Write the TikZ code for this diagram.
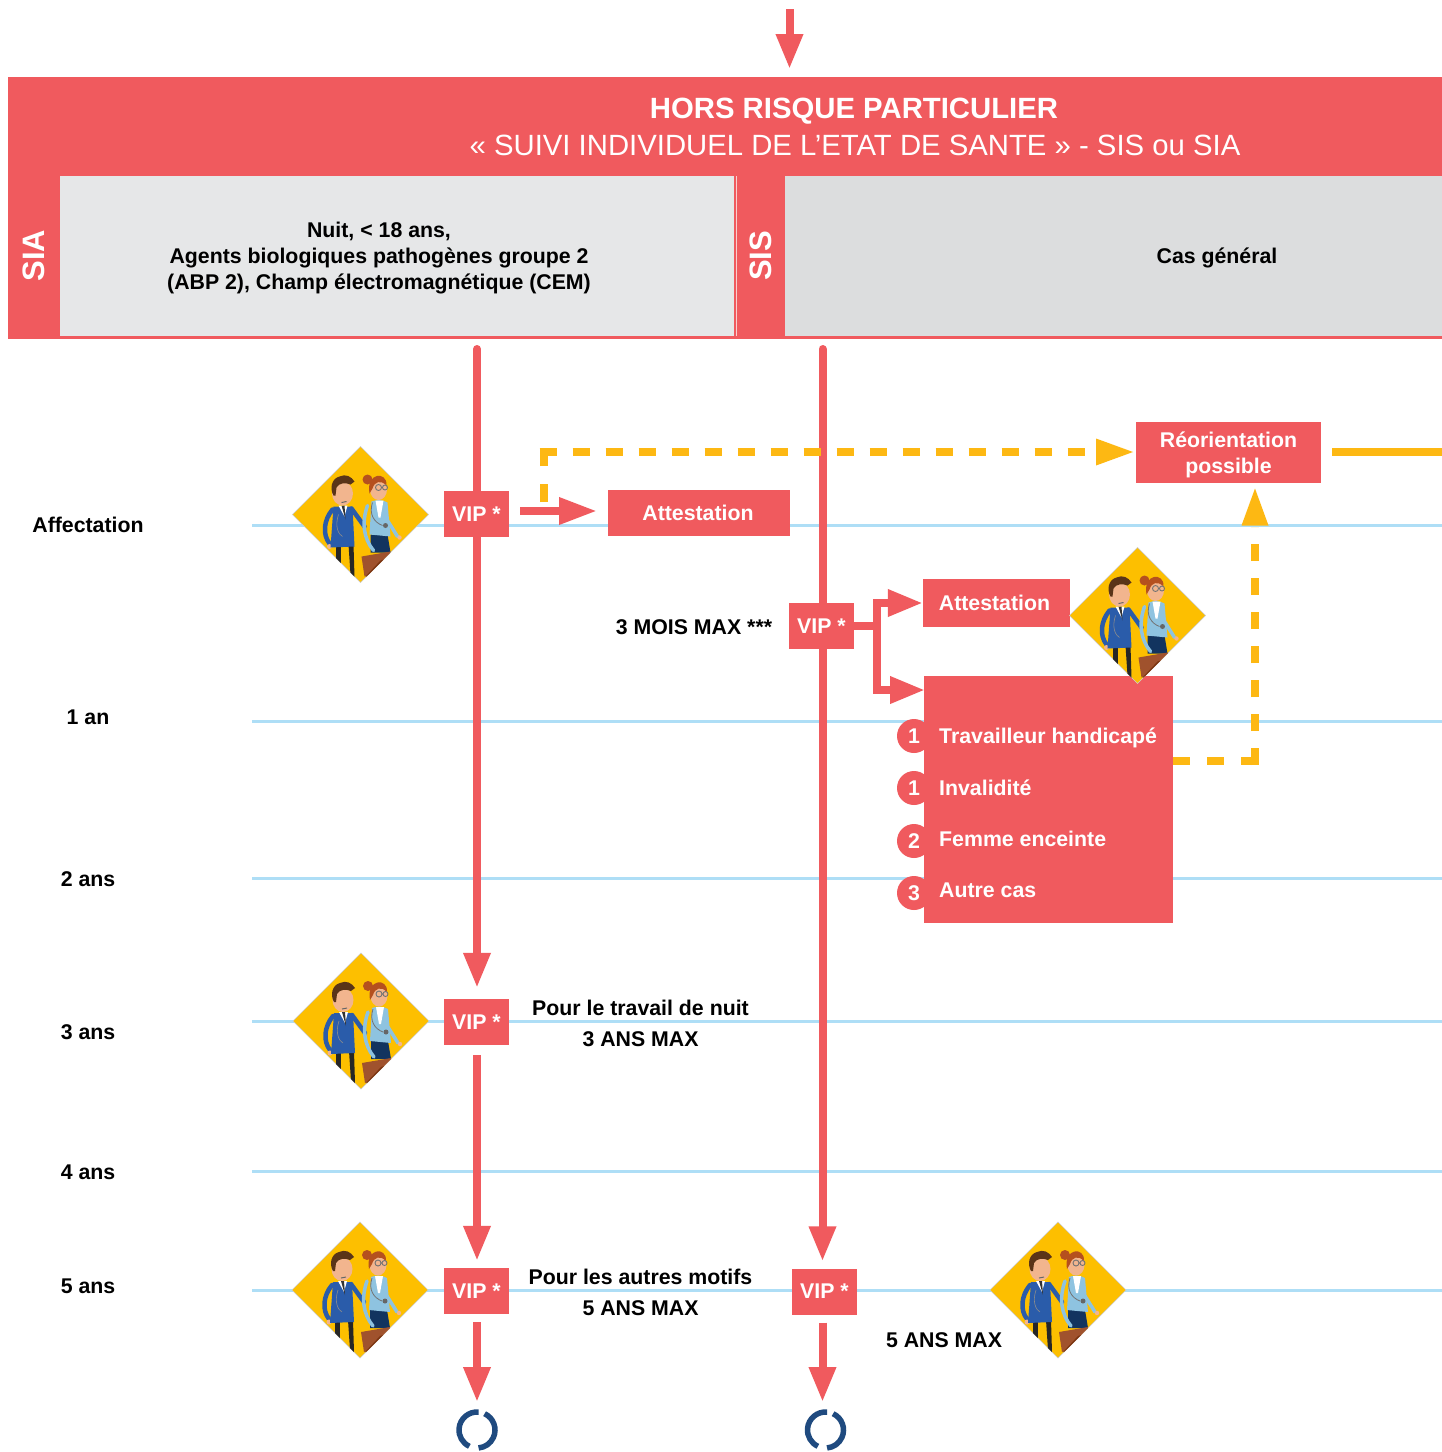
\documentclass[tikz,border=0pt]{standalone}
\usepackage{fontspec}
\setmainfont{Liberation Sans}
\usetikzlibrary{arrows.meta}
\definecolor{rd}{HTML}{F05A5E}
\definecolor{og}{HTML}{FDB813}
\definecolor{lb}{HTML}{AEDEF6}
\definecolor{ga}{HTML}{E6E7E8}
\definecolor{gb}{HTML}{DCDDDE}
\definecolor{nv}{HTML}{1F4A7F}
\definecolor{dy}{HTML}{FDBF00}
\definecolor{skirtc}{HTML}{12345F}
\definecolor{coata}{HTML}{2A5CAA}
\definecolor{coatb}{HTML}{8EC3E0}
\definecolor{skin}{HTML}{F2B58E}
\definecolor{hairm}{HTML}{5A3418}
\definecolor{hairw}{HTML}{B5501E}
\definecolor{brownc}{HTML}{A0522D}
\definecolor{brownd}{HTML}{7A3512}
\newcommand{\vip}{\raisebox{-1pt}{VIP *}}
\tikzset{
  x=1pt,y=-1pt,
  redbox/.style={fill=rd,text=white,font=\bfseries\fontsize{21.3}{26}\selectfont,align=center,inner sep=0pt,anchor=center},
  lab/.style={text=black,font=\bfseries\fontsize{21.3}{26}\selectfont,align=center,inner sep=0pt},
  wlab/.style={text=white,font=\bfseries\fontsize{21.3}{26}\selectfont,inner sep=0pt,anchor=base west},
  rdarrow/.style={draw=rd,line width=8pt,-{Triangle[length=35pt,width=25.5pt]}},
  ogdash/.style={draw=og,line width=8pt,dash pattern=on 17pt off 17pt},
  ticktime/.style={draw=lb,line width=3pt},
  num/.style={circle,fill=rd,text=white,minimum size=34pt,inner sep=0pt,font=\bfseries\fontsize{21.3}{26}\selectfont},
  cyc/.style={draw=nv,line width=5.5pt},
  staff/.pic={
    \fill[dy,draw=black!20,line width=0.5pt] (0,-68) -- (68,0) -- (0,68) -- (-68,0) -- cycle;
    \begin{scope}
    \clip (0,-68) -- (68,0) -- (0,68) -- (-68,0) -- cycle;
    % man
    \fill[black!85] (-25,30) rectangle (-20,48);
    \fill[black!85] (-12,30) -- (-7,30) -- (-6,62) -- (-10,60) -- cycle;
    \draw[coata,line width=4.5pt,line cap=round] (-28,-5) .. controls (-37,6) and (-38,20) .. (-31,29);
    \fill[skin] (-31,32) circle (2.5);
    \draw[coata,line width=4.5pt,line cap=round] (-9,-6) -- (4,12);
    \fill[coata] (-27,-8) -- (-8,-8) -- (-6,32) -- (-30,33) -- cycle;
    \fill[white] (-22,-9) -- (-13,-9) -- (-16,2) -- cycle;
    \fill[black!80] (-19,-9) -- (-16,-9) -- (-15,5) -- cycle;
    \draw[black!45,line width=0.6pt] (-22,0) .. controls (-26,12) and (-22,20) .. (-18,22);
    \fill[skin] (-18,-21) ellipse [x radius=10.5,y radius=12];
    \fill[hairm] (-27,-19) .. controls (-31,-26) and (-29,-36) .. (-21,-38) .. controls (-15,-41) and (-9,-38) .. (-6,-33) -- (-10,-30) .. controls (-15,-32) and (-21,-32) .. (-24,-27) -- (-25,-19) -- cycle;
    \draw[black!60,line width=1pt] (-19,-12) -- (-14,-13);
    % woman
    \fill[skirtc] (10,20) -- (27,20) -- (30,38) -- (10,38) -- cycle;
    \draw[coatb,line width=3.5pt,line cap=round] (7,-9) .. controls (1,8) and (3,24) .. (13,36);
    \draw[coatb,line width=3.5pt,line cap=round] (27,6) -- (37,22);
    \fill[skin] (39,23) circle (2.2);
    \fill[coatb] (11,-13) .. controls (16,-15) and (22,-15) .. (27,-12) -- (30,22) -- (9,20) -- cycle;
    \fill[white] (15,-14) -- (23,-14) -- (20,3) -- (18,3) -- cycle;
    \draw[black!55,line width=0.8pt] (12,-12) .. controls (8,0) and (14,8) .. (22,11);
    \fill[black!60] (25,11) circle (2.5);
    \fill[skin] (18,-25) ellipse [x radius=8.5,y radius=10.5];
    \fill[hairw] (7,-35) circle (5);
    \fill[hairw] (9,-21) .. controls (5,-42) and (27,-44) .. (26,-29) .. controls (20,-35) and (14,-33) .. (12,-26) -- cycle;
    \draw[black!55,line width=0.9pt] (18,-27) circle (3) (24.5,-27) circle (2.5);
    % briefcase
    \fill[brownc] (1,42) -- (30,37) -- (32,48) -- (4,62) -- cycle;
    \fill[brownd] (5,62) -- (20,46) -- (32,42) -- (32,62) -- cycle;
    \end{scope}
  }
}
\begin{document}
\begin{tikzpicture}
\useasboundingbox (0,0) rectangle (1442,1452);
\fill[white] (0,0) rectangle (1442,1452);
% header
\fill[rd] (8,77) rectangle (1442,339);
\fill[ga] (60,176) rectangle (734,336);
\draw[white!70!rd,line width=1pt] (736.5,176) -- (736.5,336);
\fill[gb] (785,176) rectangle (1442,336);
\node[text=white,font=\bfseries\fontsize{29.3}{36}\selectfont,inner sep=0pt] (title1) at (854,111.5) {HORS RISQUE PARTICULIER};
\node[text=white,font=\fontsize{29.3}{36}\selectfont,inner sep=0pt] (title2) at (855,145) {« SUIVI INDIVIDUEL DE L’ETAT DE SANTE » - SIS ou SIA};
\node[text=white,font=\bfseries\fontsize{31}{36}\selectfont,inner sep=0pt,rotate=90] (sia) at (33.5,255.5) {SIA};
\node[text=white,font=\bfseries\fontsize{31}{36}\selectfont,inner sep=0pt,rotate=90] (sis) at (760.5,256) {SIS};
\node[lab] (cas1) at (379,258.5) {Nuit, < 18 ans,\\Agents biologiques pathogènes groupe 2\\(ABP 2), Champ électromagnétique (CEM)};
\node[lab] (cas2) at (1217,258) {Cas général};
% time lines
\foreach \yy in {525.5,721,878,1021,1171,1290.5} \draw[ticktime] (252,\yy) -- (1442,\yy);
\node[lab] (t0) at (88,525) {Affectation};
\node[lab] (t1) at (88,717) {1 an};
\node[lab] (t2) at (88,879) {2 ans};
\node[lab] (t3) at (88,1032) {3 ans};
\node[lab] (t4) at (88,1172) {4 ans};
\node[lab] (t5) at (88,1286) {5 ans};
% free ends
\coordinate (top0) at (789.5,9);
\coordinate (top1) at (789.5,69);
\coordinate (la) at (477,349);
\coordinate (ra) at (822.5,349);
\coordinate (cy1) at (477,1402);
\coordinate (cy2) at (822.5,1402);
% vertical lines
\draw[rdarrow] (top0) -- (top1);
\draw[rd,line width=8pt,line cap=round] (la) -- (477,500);
\draw[rd,line width=8pt,line cap=round] (ra) -- (822.5,610);
\node[redbox,minimum width=65pt,minimum height=46pt] (v1) at (476.5,514) {\vip};
\node[redbox,minimum width=65pt,minimum height=46pt] (v2) at (476.5,1022) {\vip};
\node[redbox,minimum width=65pt,minimum height=46pt] (v3) at (476.5,1291) {\vip};
\node[redbox,minimum width=65pt,minimum height=46pt] (v4) at (821.5,626) {\vip};
\node[redbox,minimum width=65pt,minimum height=46pt] (v5) at (824.5,1291.5) {\vip};
\draw[rdarrow,shorten >=11pt] (v1.south -| la) -- (v2.north -| la);
\draw[rdarrow,shorten <=10pt,shorten >=7pt] (v2.south -| la) -- (v3.north -| la);
\draw[rdarrow,shorten <=8pt] (v3.south -| la) -- (cy1);
\draw[rdarrow,shorten >=7pt] (v4.south -| ra) -- (v5.north -| ra);
\draw[rdarrow,shorten <=8pt] (v5.south -| ra) -- (cy2);
% orange dashed
\node[redbox,minimum width=185pt,minimum height=61pt] (reo) at (1228.5,452.5) {};
\node[text=white,font=\bfseries\fontsize{21.3}{26}\selectfont,align=center,inner sep=0pt] (reot) at (1228.5,454.5) {Réorientation\\possible};
\node[redbox,minimum width=182pt,minimum height=46pt] (at1) at (699,513) {\hspace*{-2pt}\raisebox{-1pt}{Attestation}};
\coordinate (od0) at (543.5,502);
\coordinate (od1) at (543.5,448);
\coordinate (od2) at (539.5,452);
\coordinate (od3) at (1097,452);
\draw[og,line width=8pt,dash pattern=on 18pt off 18pt] (od0) -- (od1);
\draw[og,line width=8pt,dash pattern=on 17.5pt off 15.5pt] (od2) -- (od3);
\fill[og] (1096,438.5) -- (1133,452) -- (1096,465.5) -- cycle;
\coordinate (os) at (1442,452);
\coordinate (os0) at (1332,452);
\draw[og,line width=8pt] (os0) -- (os);
% arrow to attestation
\coordinate (a0) at (520,511);
\coordinate (a1) at (597,511);
\draw[draw=rd,line width=8pt,-{Triangle[length=38pt,width=25.5pt]}] (a0) -- (a1);
% diamonds
\pic (d1) at (360.5,514.5) {staff};
\pic (d2) at (361,1021) {staff};
\pic (d3) at (360,1290) {staff};
\pic (d4) at (1058,1290) {staff};
% right branch
\node[redbox,minimum width=147pt,minimum height=48pt] (at2) at (996.5,603) {\hspace*{-4pt}Attestation};
\node[num] (n1) at (914,736) {1};
\node[num] (n2) at (914,788) {1};
\node[num] (n3) at (914,841) {2};
\node[num] (n4) at (914,893) {3};
\node[fill=rd,minimum width=249pt,minimum height=247pt,inner sep=0pt] (big) at (1048.5,799.5) {};
\pic (d5) at (1137.5,615.5) {staff};
\coordinate (el) at (877,626);
\coordinate (bigin) at (925,690);
\draw[draw=rd,line width=8pt] (v4.east |- el) -- (el);
\draw[draw=rd,line width=8pt,-{Triangle[length=35pt,width=25.5pt]}] (el |- 0,630) -- (el |- at2.west) -- (at2.west);
\draw[draw=rd,line width=8pt,-{Triangle[length=35pt,width=25.5pt]}] (el |- 0,622) -- (el |- bigin) -- (bigin);
\node[wlab] (w1) at (939,743) {Travailleur handicapé};
\node[wlab] (w2) at (939,795) {Invalidité};
\node[wlab] (w3) at (939,846.5) {Femme enceinte};
\node[wlab] (w4) at (939,897) {Autre cas};
\coordinate (ob) at (1173,761);
\coordinate (oc) at (1259,761);
\coordinate (oe) at (1255,765);
\coordinate (od) at (1255,527);
\draw[ogdash] (ob) -- (oc);
\draw[ogdash] (oe) -- (od);
\fill[og] (1241.5,525.5) -- (1255,488.5) -- (1268.5,525.5) -- cycle;
% labels
\node[lab] (m3) at (694,627) {3 MOIS MAX ***};
\node[lab] (p1) at (640.5,1008) {Pour le travail de nuit};
\node[lab] (p2) at (640.5,1039) {3 ANS MAX};
\node[lab] (p3) at (640.5,1277) {Pour les autres motifs};
\node[lab] (p4) at (640.5,1308) {5 ANS MAX};
\node[lab] (p5) at (944,1340) {5 ANS MAX};
% cycle icons
\foreach \cx in {477,825.5}{
  \draw[cyc] (\cx,1430) ++(-85:18) arc[start angle=-85,end angle=-245,radius=18];
  \draw[cyc] (\cx,1430) ++(-65:18) arc[start angle=-65,end angle=85,radius=18];
}
\end{tikzpicture}
\end{document}
